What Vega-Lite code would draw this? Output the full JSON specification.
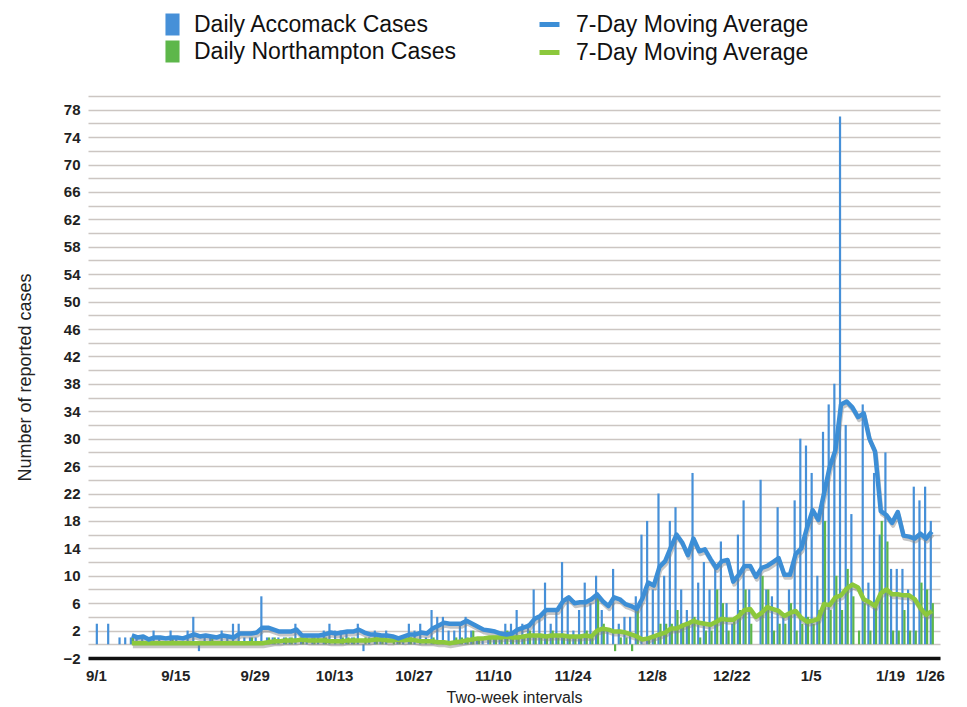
{
  "$schema": "https://vega.github.io/schema/vega-lite/v6.json",
  "width": 852,
  "height": 562,
  "autosize": {"type": "none"},
  "padding": {"left": 88, "top": 96, "right": 27, "bottom": 49},
  "background": "white",
  "config": {
    "font": "Liberation Sans",
    "view": {"stroke": null},
    "legend": {"padding": 0, "titlePadding": 0, "labelLimit": 0},
    "axisY": {
      "grid": true,
      "gridColor": "#ccc6c2",
      "gridWidth": 1.6,
      "ticks": false,
      "domain": false,
      "labelFontSize": 15,
      "labelFontWeight": "bold",
      "labelColor": "#222222",
      "labelPadding": 8,
      "titleFontSize": 18,
      "titleFontWeight": "normal",
      "titleColor": "#222222",
      "titlePadding": 28
    }
  },
  "data": {"values": [
    {"date":"2020-09-01","acc":3,"nor":0},
    {"date":"2020-09-02","acc":0,"nor":0},
    {"date":"2020-09-03","acc":3,"nor":0},
    {"date":"2020-09-04","acc":0,"nor":0},
    {"date":"2020-09-05","acc":1,"nor":0},
    {"date":"2020-09-06","acc":1,"nor":0},
    {"date":"2020-09-07","acc":1,"nor":1,"accMA":1.29,"norMA":0.14},
    {"date":"2020-09-08","acc":1,"nor":0,"accMA":1.0,"norMA":0.14},
    {"date":"2020-09-09","acc":1,"nor":0,"accMA":1.14,"norMA":0.14},
    {"date":"2020-09-10","acc":0,"nor":0,"accMA":0.71,"norMA":0.14},
    {"date":"2020-09-11","acc":2,"nor":0,"accMA":1.0,"norMA":0.14},
    {"date":"2020-09-12","acc":1,"nor":0,"accMA":1.0,"norMA":0.14},
    {"date":"2020-09-13","acc":0,"nor":0,"accMA":0.86,"norMA":0.14},
    {"date":"2020-09-14","acc":2,"nor":1,"accMA":1.0,"norMA":0.14},
    {"date":"2020-09-15","acc":1,"nor":0,"accMA":1.0,"norMA":0.14},
    {"date":"2020-09-16","acc":0,"nor":0,"accMA":0.86,"norMA":0.14},
    {"date":"2020-09-17","acc":2,"nor":0,"accMA":1.14,"norMA":0.14},
    {"date":"2020-09-18","acc":4,"nor":0,"accMA":1.43,"norMA":0.14},
    {"date":"2020-09-19","acc":-1,"nor":0,"accMA":1.14,"norMA":0.14},
    {"date":"2020-09-20","acc":1,"nor":0,"accMA":1.29,"norMA":0.14},
    {"date":"2020-09-21","acc":1,"nor":1,"accMA":1.14,"norMA":0.14},
    {"date":"2020-09-22","acc":0,"nor":0,"accMA":1.0,"norMA":0.14},
    {"date":"2020-09-23","acc":2,"nor":0,"accMA":1.29,"norMA":0.14},
    {"date":"2020-09-24","acc":1,"nor":0,"accMA":1.14,"norMA":0.14},
    {"date":"2020-09-25","acc":3,"nor":0,"accMA":1.0,"norMA":0.14},
    {"date":"2020-09-26","acc":3,"nor":0,"accMA":1.57,"norMA":0.14},
    {"date":"2020-09-27","acc":1,"nor":0,"accMA":1.57,"norMA":0.14},
    {"date":"2020-09-28","acc":1,"nor":1,"accMA":1.57,"norMA":0.14},
    {"date":"2020-09-29","acc":1,"nor":0,"accMA":1.71,"norMA":0.14},
    {"date":"2020-09-30","acc":7,"nor":0,"accMA":2.43,"norMA":0.14},
    {"date":"2020-10-01","acc":1,"nor":1,"accMA":2.43,"norMA":0.29},
    {"date":"2020-10-02","acc":1,"nor":1,"accMA":2.14,"norMA":0.43},
    {"date":"2020-10-03","acc":1,"nor":0,"accMA":1.86,"norMA":0.43},
    {"date":"2020-10-04","acc":1,"nor":1,"accMA":1.86,"norMA":0.57},
    {"date":"2020-10-05","acc":1,"nor":1,"accMA":1.86,"norMA":0.57},
    {"date":"2020-10-06","acc":3,"nor":0,"accMA":2.14,"norMA":0.57},
    {"date":"2020-10-07","acc":1,"nor":1,"accMA":1.29,"norMA":0.71},
    {"date":"2020-10-08","acc":1,"nor":0,"accMA":1.29,"norMA":0.57},
    {"date":"2020-10-09","acc":1,"nor":1,"accMA":1.29,"norMA":0.57},
    {"date":"2020-10-10","acc":1,"nor":0,"accMA":1.29,"norMA":0.57},
    {"date":"2020-10-11","acc":2,"nor":1,"accMA":1.43,"norMA":0.57},
    {"date":"2020-10-12","acc":3,"nor":0,"accMA":1.71,"norMA":0.43},
    {"date":"2020-10-13","acc":2,"nor":0,"accMA":1.57,"norMA":0.43},
    {"date":"2020-10-14","acc":2,"nor":1,"accMA":1.71,"norMA":0.43},
    {"date":"2020-10-15","acc":2,"nor":1,"accMA":1.86,"norMA":0.57},
    {"date":"2020-10-16","acc":1,"nor":1,"accMA":1.86,"norMA":0.57},
    {"date":"2020-10-17","acc":3,"nor":0,"accMA":2.14,"norMA":0.57},
    {"date":"2020-10-18","acc":-1,"nor":1,"accMA":1.71,"norMA":0.57},
    {"date":"2020-10-19","acc":1,"nor":0,"accMA":1.43,"norMA":0.57},
    {"date":"2020-10-20","acc":2,"nor":1,"accMA":1.43,"norMA":0.71},
    {"date":"2020-10-21","acc":1,"nor":1,"accMA":1.29,"norMA":0.71},
    {"date":"2020-10-22","acc":2,"nor":0,"accMA":1.29,"norMA":0.57},
    {"date":"2020-10-23","acc":0,"nor":1,"accMA":1.14,"norMA":0.57},
    {"date":"2020-10-24","acc":1,"nor":1,"accMA":0.86,"norMA":0.71},
    {"date":"2020-10-25","acc":1,"nor":0,"accMA":1.14,"norMA":0.57},
    {"date":"2020-10-26","acc":3,"nor":1,"accMA":1.43,"norMA":0.71},
    {"date":"2020-10-27","acc":2,"nor":0,"accMA":1.43,"norMA":0.57},
    {"date":"2020-10-28","acc":3,"nor":0,"accMA":1.71,"norMA":0.43},
    {"date":"2020-10-29","acc":1,"nor":0,"accMA":1.57,"norMA":0.43},
    {"date":"2020-10-30","acc":5,"nor":1,"accMA":2.29,"norMA":0.43},
    {"date":"2020-10-31","acc":4,"nor":0,"accMA":2.71,"norMA":0.29},
    {"date":"2020-11-01","acc":4,"nor":0,"accMA":3.14,"norMA":0.29},
    {"date":"2020-11-02","acc":2,"nor":0,"accMA":3.0,"norMA":0.14},
    {"date":"2020-11-03","acc":2,"nor":1,"accMA":3.0,"norMA":0.29},
    {"date":"2020-11-04","acc":3,"nor":1,"accMA":3.0,"norMA":0.43},
    {"date":"2020-11-05","acc":4,"nor":1,"accMA":3.43,"norMA":0.57},
    {"date":"2020-11-06","acc":2,"nor":2,"accMA":3.0,"norMA":0.71},
    {"date":"2020-11-07","acc":1,"nor":1,"accMA":2.57,"norMA":0.86},
    {"date":"2020-11-08","acc":1,"nor":0,"accMA":2.14,"norMA":0.86},
    {"date":"2020-11-09","acc":1,"nor":1,"accMA":2.0,"norMA":1.0},
    {"date":"2020-11-10","acc":1,"nor":1,"accMA":1.86,"norMA":1.0},
    {"date":"2020-11-11","acc":1,"nor":1,"accMA":1.57,"norMA":1.0},
    {"date":"2020-11-12","acc":3,"nor":2,"accMA":1.43,"norMA":1.14},
    {"date":"2020-11-13","acc":3,"nor":1,"accMA":1.57,"norMA":1.0},
    {"date":"2020-11-14","acc":5,"nor":1,"accMA":2.14,"norMA":1.0},
    {"date":"2020-11-15","acc":3,"nor":1,"accMA":2.43,"norMA":1.14},
    {"date":"2020-11-16","acc":3,"nor":2,"accMA":2.71,"norMA":1.29},
    {"date":"2020-11-17","acc":8,"nor":1,"accMA":3.71,"norMA":1.29},
    {"date":"2020-11-18","acc":4,"nor":1,"accMA":4.14,"norMA":1.29},
    {"date":"2020-11-19","acc":9,"nor":1,"accMA":5.0,"norMA":1.14},
    {"date":"2020-11-20","acc":3,"nor":2,"accMA":5.0,"norMA":1.29},
    {"date":"2020-11-21","acc":5,"nor":1,"accMA":5.0,"norMA":1.29},
    {"date":"2020-11-22","acc":12,"nor":1,"accMA":6.29,"norMA":1.29},
    {"date":"2020-11-23","acc":7,"nor":1,"accMA":6.86,"norMA":1.14},
    {"date":"2020-11-24","acc":2,"nor":1,"accMA":6.0,"norMA":1.14},
    {"date":"2020-11-25","acc":5,"nor":1,"accMA":6.14,"norMA":1.14},
    {"date":"2020-11-26","acc":9,"nor":2,"accMA":6.14,"norMA":1.29},
    {"date":"2020-11-27","acc":6,"nor":1,"accMA":6.57,"norMA":1.14},
    {"date":"2020-11-28","acc":10,"nor":7,"accMA":7.29,"norMA":2.0},
    {"date":"2020-11-29","acc":5,"nor":3,"accMA":6.29,"norMA":2.29},
    {"date":"2020-11-30","acc":2,"nor":0,"accMA":5.57,"norMA":2.14},
    {"date":"2020-12-01","acc":11,"nor":-1,"accMA":6.86,"norMA":1.86},
    {"date":"2020-12-02","acc":3,"nor":1,"accMA":6.57,"norMA":1.86},
    {"date":"2020-12-03","acc":4,"nor":1,"accMA":5.86,"norMA":1.71},
    {"date":"2020-12-04","acc":4,"nor":-1,"accMA":5.57,"norMA":1.43},
    {"date":"2020-12-05","acc":7,"nor":5,"accMA":5.14,"norMA":1.14},
    {"date":"2020-12-06","acc":16,"nor":0,"accMA":6.71,"norMA":0.71},
    {"date":"2020-12-07","acc":18,"nor":1,"accMA":9.0,"norMA":0.86},
    {"date":"2020-12-08","acc":8,"nor":1,"accMA":8.57,"norMA":1.14},
    {"date":"2020-12-09","acc":22,"nor":3,"accMA":11.29,"norMA":1.43},
    {"date":"2020-12-10","acc":10,"nor":3,"accMA":12.14,"norMA":1.71},
    {"date":"2020-12-11","acc":18,"nor":3,"accMA":14.14,"norMA":2.29},
    {"date":"2020-12-12","acc":20,"nor":5,"accMA":16.0,"norMA":2.29},
    {"date":"2020-12-13","acc":8,"nor":3,"accMA":14.86,"norMA":2.71},
    {"date":"2020-12-14","acc":5,"nor":3,"accMA":13.0,"norMA":3.0},
    {"date":"2020-12-15","acc":25,"nor":4,"accMA":15.43,"norMA":3.43},
    {"date":"2020-12-16","acc":9,"nor":1,"accMA":13.57,"norMA":3.14},
    {"date":"2020-12-17","acc":12,"nor":2,"accMA":13.86,"norMA":3.0},
    {"date":"2020-12-18","acc":8,"nor":2,"accMA":12.43,"norMA":2.86},
    {"date":"2020-12-19","acc":11,"nor":8,"accMA":11.14,"norMA":3.29},
    {"date":"2020-12-20","acc":15,"nor":6,"accMA":12.14,"norMA":3.71},
    {"date":"2020-12-21","acc":6,"nor":2,"accMA":12.29,"norMA":3.57},
    {"date":"2020-12-22","acc":3,"nor":4,"accMA":9.14,"norMA":3.57},
    {"date":"2020-12-23","acc":16,"nor":5,"accMA":10.14,"norMA":4.14},
    {"date":"2020-12-24","acc":21,"nor":8,"accMA":11.43,"norMA":5.0},
    {"date":"2020-12-25","acc":8,"nor":3,"accMA":11.43,"norMA":5.14},
    {"date":"2020-12-26","acc":0,"nor":0,"accMA":9.86,"norMA":4.0},
    {"date":"2020-12-27","acc":24,"nor":10,"accMA":11.14,"norMA":4.57},
    {"date":"2020-12-28","acc":8,"nor":8,"accMA":11.43,"norMA":5.43},
    {"date":"2020-12-29","acc":7,"nor":2,"accMA":12.0,"norMA":5.14},
    {"date":"2020-12-30","acc":20,"nor":3,"accMA":12.57,"norMA":4.86},
    {"date":"2020-12-31","acc":4,"nor":3,"accMA":10.14,"norMA":4.14},
    {"date":"2021-01-01","acc":8,"nor":6,"accMA":10.14,"norMA":4.57},
    {"date":"2021-01-02","acc":21,"nor":2,"accMA":13.14,"norMA":4.86},
    {"date":"2021-01-03","acc":30,"nor":3,"accMA":14.0,"norMA":3.86},
    {"date":"2021-01-04","acc":29,"nor":4,"accMA":17.0,"norMA":3.29},
    {"date":"2021-01-05","acc":25,"nor":3,"accMA":19.57,"norMA":3.43},
    {"date":"2021-01-06","acc":10,"nor":5,"accMA":18.14,"norMA":3.71},
    {"date":"2021-01-07","acc":31,"nor":18,"accMA":22.0,"norMA":5.86},
    {"date":"2021-01-08","acc":35,"nor":5,"accMA":25.86,"norMA":5.71},
    {"date":"2021-01-09","acc":38,"nor":10,"accMA":28.29,"norMA":6.86},
    {"date":"2021-01-10","acc":77,"nor":5,"accMA":35.0,"norMA":7.14},
    {"date":"2021-01-11","acc":32,"nor":11,"accMA":35.43,"norMA":8.14},
    {"date":"2021-01-12","acc":19,"nor":7,"accMA":34.57,"norMA":8.71},
    {"date":"2021-01-13","acc":0,"nor":2,"accMA":33.14,"norMA":8.29},
    {"date":"2021-01-14","acc":35,"nor":6,"accMA":33.71,"norMA":6.57},
    {"date":"2021-01-15","acc":9,"nor":2,"accMA":30.0,"norMA":6.14},
    {"date":"2021-01-16","acc":25,"nor":6,"accMA":28.14,"norMA":5.57},
    {"date":"2021-01-17","acc":16,"nor":18,"accMA":19.43,"norMA":7.43},
    {"date":"2021-01-18","acc":28,"nor":15,"accMA":18.86,"norMA":8.0},
    {"date":"2021-01-19","acc":11,"nor":2,"accMA":17.71,"norMA":7.29},
    {"date":"2021-01-20","acc":11,"nor":2,"accMA":19.29,"norMA":7.29},
    {"date":"2021-01-21","acc":11,"nor":5,"accMA":15.86,"norMA":7.14},
    {"date":"2021-01-22","acc":8,"nor":2,"accMA":15.71,"norMA":7.14},
    {"date":"2021-01-23","acc":23,"nor":2,"accMA":15.43,"norMA":6.57},
    {"date":"2021-01-24","acc":21,"nor":9,"accMA":16.14,"norMA":5.29},
    {"date":"2021-01-25","acc":23,"nor":8,"accMA":15.43,"norMA":4.29},
    {"date":"2021-01-26","acc":18,"nor":6,"accMA":16.43,"norMA":4.86}
  ]},
  "encoding": {
    "x": {
      "field": "date",
      "type": "temporal",
      "scale": {
        "type": "utc",
        "domain": [
          {"year": 2020, "month": 8, "date": 31, "hours": 12, "utc": true},
          {"year": 2021, "month": 1, "date": 26, "hours": 22, "utc": true}
        ]
      },
      "axis": {
        "values": [
          {"year": 2020, "month": 9, "date": 1, "utc": true},
          {"year": 2020, "month": 9, "date": 15, "utc": true},
          {"year": 2020, "month": 9, "date": 29, "utc": true},
          {"year": 2020, "month": 10, "date": 13, "utc": true},
          {"year": 2020, "month": 10, "date": 27, "utc": true},
          {"year": 2020, "month": 11, "date": 10, "utc": true},
          {"year": 2020, "month": 11, "date": 24, "utc": true},
          {"year": 2020, "month": 12, "date": 8, "utc": true},
          {"year": 2020, "month": 12, "date": 22, "utc": true},
          {"year": 2021, "month": 1, "date": 5, "utc": true},
          {"year": 2021, "month": 1, "date": 19, "utc": true},
          {"year": 2021, "month": 1, "date": 26, "utc": true}
        ],
        "format": "%-m/%-d",
        "title": "Two-week intervals",
        "grid": false,
        "ticks": false,
        "domain": true,
        "domainColor": "#111111",
        "domainWidth": 3.5,
        "labelFontSize": 15,
        "labelFontWeight": "bold",
        "labelColor": "#222222",
        "labelPadding": 10,
        "labelOverlap": false,
        "labelFlush": false,
        "titleFontSize": 16,
        "titleFontWeight": "normal",
        "titleColor": "#222222",
        "titlePadding": 6
      }
    }
  },
  "layer": [
    {
      "mark": {"type": "bar", "size": 2.2, "xOffset": 1},
      "encoding": {
        "y": {
          "field": "acc",
          "type": "quantitative",
          "scale": {"domain": [-2, 80], "nice": false},
          "title": "Number of reported cases",
          "axis": {
            "values": [-2,0,2,4,6,8,10,12,14,16,18,20,22,24,26,28,30,32,34,36,38,40,42,44,46,48,50,52,54,56,58,60,62,64,66,68,70,72,74,76,78,80],
            "labelExpr": "(datum.value + 2) % 4 == 0 && datum.value < 79 ? datum.label : ''"
          }
        },
        "fill": {
          "datum": "Daily Accomack Cases",
          "type": "nominal",
          "scale": {"domain": ["Daily Accomack Cases", "Daily Northampton Cases"], "range": ["#4690d8", "#5db74a"]},
          "legend": {
            "orient": "none", "legendX": 73, "legendY": -83, "direction": "vertical", "title": null,
            "symbolType": "M-0.64,-1H0.64V1H-0.64Z", "symbolSize": 484, "symbolStrokeWidth": 0,
            "labelFontSize": 23, "labelColor": "#111111", "labelOffset": 10, "rowPadding": 3
          }
        }
      }
    },
    {
      "mark": {"type": "bar", "size": 2.2, "xOffset": 3},
      "encoding": {
        "y": {
          "field": "nor",
          "type": "quantitative",
          "title": "Number of reported cases",
          "axis": {
            "values": [-2,0,2,4,6,8,10,12,14,16,18,20,22,24,26,28,30,32,34,36,38,40,42,44,46,48,50,52,54,56,58,60,62,64,66,68,70,72,74,76,78,80],
            "labelExpr": "(datum.value + 2) % 4 == 0 && datum.value < 79 ? datum.label : ''"
          }
        },
        "fill": {
          "datum": "Daily Northampton Cases",
          "type": "nominal",
          "legend": {
            "orient": "none", "legendX": 73, "legendY": -83, "direction": "vertical", "title": null,
            "symbolType": "M-0.64,-1H0.64V1H-0.64Z", "symbolSize": 484, "symbolStrokeWidth": 0,
            "labelFontSize": 23, "labelColor": "#111111", "labelOffset": 10, "rowPadding": 3
          }
        }
      }
    },
    {
      "mark": {"type": "line", "stroke": "#808080", "strokeWidth": 4, "opacity": 0.45, "xOffset": 3, "yOffset": 3, "strokeJoin": "round"},
      "encoding": {
        "y": {
          "field": "accMA",
          "type": "quantitative",
          "title": "Number of reported cases",
          "axis": {
            "values": [-2,0,2,4,6,8,10,12,14,16,18,20,22,24,26,28,30,32,34,36,38,40,42,44,46,48,50,52,54,56,58,60,62,64,66,68,70,72,74,76,78,80],
            "labelExpr": "(datum.value + 2) % 4 == 0 && datum.value < 79 ? datum.label : ''"
          }
        }
      }
    },
    {
      "mark": {"type": "line", "stroke": "#808080", "strokeWidth": 4, "opacity": 0.45, "xOffset": 3, "yOffset": 3, "strokeJoin": "round"},
      "encoding": {
        "y": {
          "field": "norMA",
          "type": "quantitative",
          "title": "Number of reported cases",
          "axis": {
            "values": [-2,0,2,4,6,8,10,12,14,16,18,20,22,24,26,28,30,32,34,36,38,40,42,44,46,48,50,52,54,56,58,60,62,64,66,68,70,72,74,76,78,80],
            "labelExpr": "(datum.value + 2) % 4 == 0 && datum.value < 79 ? datum.label : ''"
          }
        }
      }
    },
    {
      "mark": {"type": "line", "strokeWidth": 4.5, "xOffset": 2, "strokeJoin": "round"},
      "encoding": {
        "y": {
          "field": "norMA",
          "type": "quantitative",
          "title": "Number of reported cases",
          "axis": {
            "values": [-2,0,2,4,6,8,10,12,14,16,18,20,22,24,26,28,30,32,34,36,38,40,42,44,46,48,50,52,54,56,58,60,62,64,66,68,70,72,74,76,78,80],
            "labelExpr": "(datum.value + 2) % 4 == 0 && datum.value < 79 ? datum.label : ''"
          }
        },
        "stroke": {
          "datum": "Northampton MA",
          "type": "nominal",
          "scale": {"domain": ["Accomack MA", "Northampton MA"], "range": ["#3c8ed6", "#8cc83c"]},
          "legend": {
            "orient": "none", "legendX": 449, "legendY": -84, "direction": "vertical", "title": null,
            "symbolType": "stroke", "symbolSize": 400, "symbolStrokeWidth": 5,
            "labelExpr": "'7-Day Moving Average'",
            "labelFontSize": 23, "labelColor": "#111111", "labelOffset": 14, "rowPadding": 3
          }
        }
      }
    },
    {
      "mark": {"type": "line", "strokeWidth": 4.5, "xOffset": 2, "strokeJoin": "round"},
      "encoding": {
        "y": {
          "field": "accMA",
          "type": "quantitative",
          "title": "Number of reported cases",
          "axis": {
            "values": [-2,0,2,4,6,8,10,12,14,16,18,20,22,24,26,28,30,32,34,36,38,40,42,44,46,48,50,52,54,56,58,60,62,64,66,68,70,72,74,76,78,80],
            "labelExpr": "(datum.value + 2) % 4 == 0 && datum.value < 79 ? datum.label : ''"
          }
        },
        "stroke": {
          "datum": "Accomack MA",
          "type": "nominal",
          "legend": {
            "orient": "none", "legendX": 449, "legendY": -84, "direction": "vertical", "title": null,
            "symbolType": "stroke", "symbolSize": 400, "symbolStrokeWidth": 5,
            "labelExpr": "'7-Day Moving Average'",
            "labelFontSize": 23, "labelColor": "#111111", "labelOffset": 14, "rowPadding": 3
          }
        }
      }
    }
  ]
}
